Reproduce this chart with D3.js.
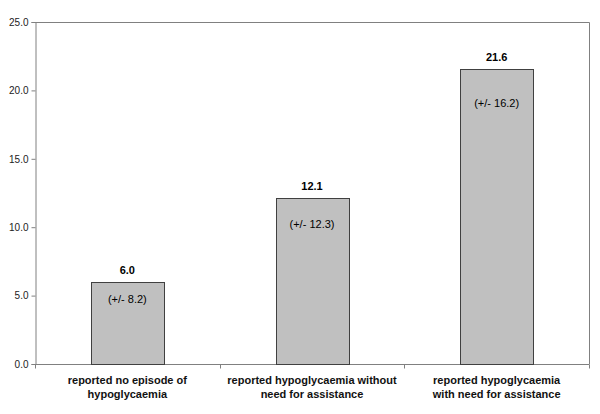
<!DOCTYPE html>
<html>
<head>
<meta charset="utf-8">
<script src="https://cdn.jsdelivr.net/npm/d3@7"></script>
<style>
	body { margin: 0; background: #fff; }
	svg { font-family: "Liberation Sans", Arial, sans-serif; }
	.axis path, .axis line { stroke: #808080; }
	.axis text { fill: #222; font-size: 10px; }
</style>
</head>
<body>
<svg id="chart"></svg>
<script>
// chart data
let categories = [
	["reported no episode of", "hypoglycaemia"],
	["reported hypoglycaemia without", "need for assistance"],
	["reported hypoglycaemia", "with need for assistance"]
];
let values = [6.0, 12.1, 21.6];
let errors = [8.2, 12.3, 16.2];
let yTicks = [0, 5, 10, 15, 20, 25];

let w = 600, h = 414;
let leftMargin = 35, rightMargin = 11, topMargin = 22, bottomMargin = 50;

// vertical offset of the "(+/- x)" label below each bar top
let errDy = [21, 30, 38];

let chart = d3.select('#chart')
	.attr('width', w)
	.attr('height', h);

let xScale = d3.scaleBand()
	.domain(d3.range(values.length))
	.range([leftMargin, w - rightMargin])
	.paddingInner(0.605)
	.paddingOuter(0.3025);

let yScale = d3.scaleLinear()
	.domain([0, 25])
	.range([h - bottomMargin, topMargin]);

// plot frame (top and right)
chart.append('path')
	.attr('d', `M${leftMargin},${topMargin + 0.5}H${w - rightMargin + 0.5}V${h - bottomMargin}`)
	.attr('fill', 'none')
	.attr('stroke', '#808080');

// y axis
let yAxis = d3.axisLeft(yScale)
	.tickValues(yTicks)
	.tickFormat(d3.format('.1f'))
	.tickSize(4)
	.tickPadding(3);

chart.append('g')
	.attr('class', 'axis')
	.attr('transform', `translate(${leftMargin + 0.5},0)`)
	.call(yAxis);

// x axis with ticks at category boundaries
let xAxisG = chart.append('g')
	.attr('class', 'axis')
	.attr('transform', `translate(0,${h - bottomMargin + 0.5})`);

xAxisG.append('line')
	.attr('x1', leftMargin)
	.attr('x2', w - rightMargin + 0.5)
	.attr('stroke', '#808080');

let step = xScale.step();
xAxisG.selectAll('.xtick')
	.data(d3.range(values.length + 1))
	.enter()
	.append('line')
	.attr('class', 'xtick')
	.attr('x1', (d) => Math.round(leftMargin + d * step) + 0.5)
	.attr('x2', (d) => Math.round(leftMargin + d * step) + 0.5)
	.attr('y1', 0)
	.attr('y2', 4)
	.attr('stroke', '#808080');

// bars
chart.selectAll('rect.bar')
	.data(values)
	.enter()
	.append('rect')
	.attr('class', 'bar')
	.attr('x', (d, i) => Math.round(xScale(i)) + 0.5)
	.attr('y', (d) => Math.round(yScale(d)) + 0.5)
	.attr('width', Math.round(xScale.bandwidth()))
	.attr('height', (d) => Math.round(yScale(0)) - Math.round(yScale(d)))
	.attr('fill', '#c0c0c0')
	.attr('stroke', '#404040')
	.attr('stroke-width', 1);

// value labels
chart.selectAll('text.val')
	.data(values)
	.enter()
	.append('text')
	.attr('class', 'val')
	.attr('x', (d, i) => xScale(i) + xScale.bandwidth() / 2)
	.attr('y', (d) => yScale(d) - 8)
	.attr('text-anchor', 'middle')
	.style('font-size', '11px')
	.style('font-weight', 'bold')
	.text((d) => d.toFixed(1));

// error labels inside bars
chart.selectAll('text.err')
	.data(errors)
	.enter()
	.append('text')
	.attr('class', 'err')
	.attr('x', (d, i) => xScale(i) + xScale.bandwidth() / 2)
	.attr('y', (d, i) => yScale(values[i]) + errDy[i])
	.attr('text-anchor', 'middle')
	.style('font-size', '11px')
	.text((d) => `(+/- ${d.toFixed(1)})`);

// category labels
let catLabels = chart.selectAll('text.cat')
	.data(categories)
	.enter()
	.append('text')
	.attr('class', 'cat')
	.attr('text-anchor', 'middle')
	.style('font-size', '11px')
	.style('font-weight', 'bold')
	.attr('fill', '#111');

catLabels.selectAll('tspan')
	.data((d, i) => d.map((t) => ({ t: t, i: i })))
	.enter()
	.append('tspan')
	.attr('x', (d) => xScale(d.i) + xScale.bandwidth() / 2)
	.attr('y', (d, j) => h - bottomMargin + 20 + j * 14)
	.text((d) => d.t);
</script>
</body>
</html>
